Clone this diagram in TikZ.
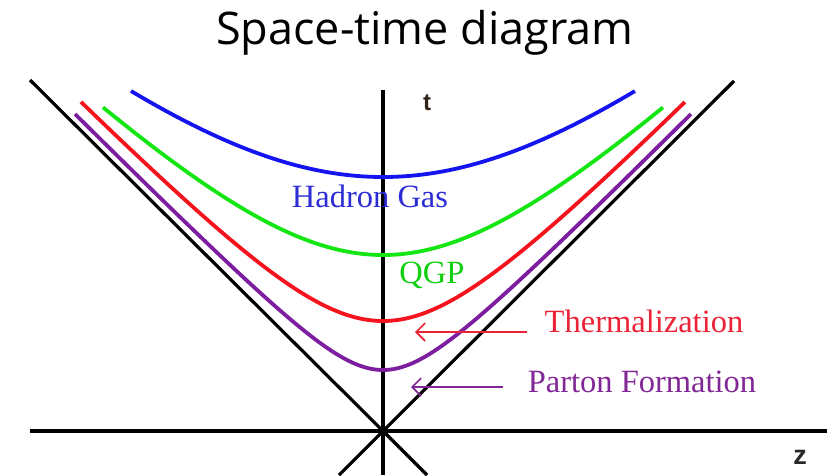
\documentclass[tikz,border=0pt]{standalone}
\usepackage{fontspec}
\setmainfont{Liberation Serif}
\newfontfamily\titlefont{Open Sans}
\newfontfamily\axfont{Liberation Sans}
\usetikzlibrary{arrows.meta}
\definecolor{cblue}{RGB}{20,20,240}
\definecolor{tblue}{RGB}{45,45,215}
\definecolor{cgreen}{RGB}{20,230,20}
\definecolor{cred}{RGB}{245,20,30}
\definecolor{tred}{RGB}{235,35,55}
\definecolor{cpurple}{RGB}{125,30,160}
\definecolor{tpurple}{RGB}{130,40,150}
\begin{document}
\begin{tikzpicture}[x=1pt,y=-1pt,
  axis/.style={line width=3.2pt,black},
  curve/.style={line width=3.8pt},
  lbl/.style={font=\fontsize{32.5}{36}\selectfont,anchor=base,inner sep=0pt},
  pointer/.style={line width=1.8pt,-{Straight Barb[length=9pt,width=18pt,line width=1.6pt]}}]
\useasboundingbox (0,0) rectangle (830,475);
\fill[white] (0,0) rectangle (830,475);
% title
\node[font=\titlefont\fontsize{45}{50}\selectfont,anchor=base,inner sep=0pt] (title) at (425,44) {Space-time diagram};
% axes and light cone
\coordinate (O) at (383,431);
\coordinate (zl) at (30,431);
\coordinate (zr) at (827,431);
\coordinate (tt) at (383,90);
\coordinate (tb) at (383,475);
\coordinate (cl1) at (30,80);
\coordinate (cl2) at (427,475);
\coordinate (cr1) at (734,81);
\coordinate (cr2) at (339,475);
\draw[axis] (zl) -- (zr);
\draw[axis] (tt) -- (tb);
\draw[axis] (cl1) -- (O) -- (cl2);
\draw[axis] (cr1) -- (O) -- (cr2);
% hyperbolae
\draw[curve,cblue] plot[domain=-2.52:2.52,samples=120,smooth] ({383+100*\x},{431-100*sqrt(2.54*2.54+(0.897*\x)*(0.897*\x))});
\draw[curve,cgreen] plot[domain=-2.80:2.80,samples=120,smooth] ({383+100*\x},{431-100*sqrt(1.76*1.76+(0.97*\x)*(0.97*\x))});
\draw[curve,cred] plot[domain=-3.02:3.02,samples=150,smooth] ({383+100*\x},{431-100*sqrt(1.10*1.10+(1.027*\x)*(1.027*\x))});
\draw[curve,cpurple] plot[domain=-3.08:3.08,samples=150,smooth] ({383+100*\x},{431-100*sqrt(0.61*0.61+(1.01*\x)*(1.01*\x))});
% labels
\node[font=\axfont\bfseries\fontsize{24}{30}\selectfont,anchor=base,inner sep=0pt,text={rgb,255:red,50;green,35;blue,25}] (tlab) at (427,110) {t};
\node[font=\axfont\bfseries\fontsize{27}{30}\selectfont,anchor=base,inner sep=0pt,text={rgb,255:red,40;green,40;blue,40}] (zlab) at (800,464) {z};
\node[lbl,tblue] (hg) at (370,207) {Hadron Gas};
\node[lbl,cgreen!90!black] (qgp) at (432,283) {QGP};
\node[lbl,tred] (therm) at (644,332) {Thermalization};
\node[lbl,tpurple] (parton) at (642,392) {Parton Formation};
% pointers
\coordinate (ta) at (527,332);
\coordinate (tb2) at (415,332);
\coordinate (pa) at (503,387);
\coordinate (pb) at (411,387);
\draw[pointer,tred] (ta) -- (tb2);
\draw[pointer,tpurple] (pa) -- (pb);
\end{tikzpicture}
\end{document}
